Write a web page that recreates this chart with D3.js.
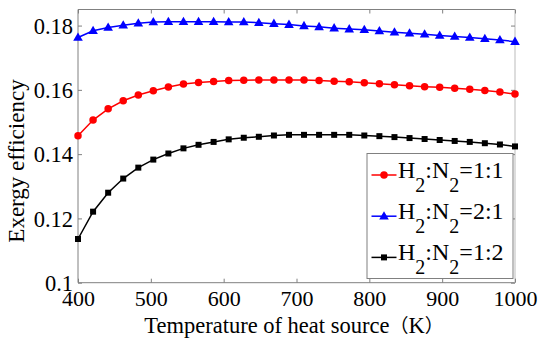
<!DOCTYPE html>
<html><head><meta charset="utf-8">
<script src="https://cdn.jsdelivr.net/npm/d3@7"></script>
<style>body{margin:0;background:#fff}svg{display:block}
svg text{font-family:"Liberation Serif","Times New Roman","DejaVu Serif",serif;}
svg text .cjk{font-family:"Noto Sans CJK SC",sans-serif;}
</style>
</head><body>
<svg id="c" width="550" height="341"></svg>
<script>
const temps = [400,420.7,441.4,462.1,482.8,503.4,524.1,544.8,565.5,586.2,606.9,627.6,648.3,669.0,689.7,710.3,731.0,751.7,772.4,793.1,813.8,834.5,855.2,875.9,896.6,917.2,937.9,958.6,979.3,1000];
const ratio11 = [0.1457,0.1506,0.1541,0.1566,0.1584,0.1597,0.1609,0.1618,0.1623,0.1626,0.1629,0.1630,0.1631,0.1631,0.1631,0.1631,0.1629,0.1627,0.1625,0.1622,0.1619,0.1616,0.1613,0.1610,0.1608,0.1605,0.1602,0.1598,0.1593,0.1587];
const ratio21 = [0.1763,0.1784,0.1794,0.1801,0.1807,0.1811,0.1812,0.1812,0.1812,0.1812,0.1811,0.1811,0.1809,0.1806,0.1803,0.1799,0.1796,0.1792,0.1789,0.1787,0.1783,0.1779,0.1776,0.1773,0.1769,0.1766,0.1763,0.1759,0.1755,0.1750];
const ratio12 = [0.1136,0.1221,0.1280,0.1324,0.1358,0.1383,0.1402,0.1418,0.1429,0.1438,0.1446,0.1451,0.1454,0.1458,0.1460,0.1460,0.1460,0.1460,0.1460,0.1458,0.1456,0.1453,0.1450,0.1447,0.1444,0.1441,0.1438,0.1434,0.1430,0.1424];
const xTicks = [400,500,600,700,800,900,1000];
const xTickLabels = ["400","500","600","700","800","900","1000"];
const yTicks = [0.1,0.12,0.14,0.16,0.18];
const yTickLabels = ["0.1","0.12","0.14","0.16","0.18"];
const seriesNames = ["1:1","2:1","1:2"];

const series = [
  {name: seriesNames[0], values: ratio11, color: "#ff0000", sym: d3.symbolCircle, size: 44},
  {name: seriesNames[1], values: ratio21, color: "#0000ff", sym: d3.symbolTriangle, size: 40},
  {name: seriesNames[2], values: ratio12, color: "#000000", sym: d3.symbolSquare, size: 36}
];

const svg = d3.select("#c");
const L = 78, R = 515, T = 9.5, B = 282.7;
const x = d3.scaleLinear().domain([400,1000]).range([L,R]);
const y = d3.scaleLinear().domain([0.1,0.185]).range([B,T]);

// frame
const axisCol = "#808080";
svg.append("line").attr("x1",L).attr("x2",L).attr("y1",T).attr("y2",B).attr("stroke",axisCol);
svg.append("line").attr("x1",L).attr("x2",R).attr("y1",B).attr("y2",B).attr("stroke",axisCol);
svg.append("line").attr("x1",L).attr("x2",R).attr("y1",T).attr("y2",T).attr("stroke",axisCol);
svg.append("line").attr("x1",R).attr("x2",R).attr("y1",T).attr("y2",B).attr("stroke","#bbb");

// axes with inward ticks
const gx = svg.append("g").attr("transform",`translate(0,${B})`)
  .call(d3.axisBottom(x).tickValues(xTicks).tickSizeInner(-4).tickSizeOuter(0).tickPadding(7.5)
    .tickFormat((d,i)=>xTickLabels[i]));
const gxt = svg.append("g").attr("transform",`translate(0,${T})`)
  .call(d3.axisTop(x).tickValues(xTicks).tickSizeInner(-4).tickSizeOuter(0).tickFormat(""));
const gy = svg.append("g").attr("transform",`translate(${L},0)`)
  .call(d3.axisLeft(y).tickValues(yTicks).tickSizeInner(-4).tickSizeOuter(0).tickPadding(5)
    .tickFormat((d,i)=>yTickLabels[i]));
const gyr = svg.append("g").attr("transform",`translate(${R},0)`)
  .call(d3.axisRight(y).tickValues(yTicks).tickSizeInner(-4).tickSizeOuter(0).tickFormat(""));
[gx,gxt,gy,gyr].forEach(g=>{
  g.attr("font-family",null).attr("font-size",null);
  g.select(".domain").remove();
  g.selectAll(".tick line").attr("stroke",axisCol);
  g.selectAll("text").style("font-size","22.5px").attr("fill","#000");
});
gx.selectAll("text").style("font-size","22px").attr("dy","0.71em");
gy.selectAll("text").attr("dy","0.34em");

// lines and markers
const line = d3.line().x((d,i)=>x(temps[i])).y(d=>y(d));
series.forEach(s=>{
  svg.append("path").datum(s.values).attr("d",line).attr("fill","none")
    .attr("stroke",s.color).attr("stroke-width",1.5);
  svg.append("g").selectAll("path").data(s.values).join("path")
    .attr("d",d3.symbol().type(s.sym).size(s.size))
    .attr("transform",(d,i)=>`translate(${x(temps[i])},${y(d) + (s.sym===d3.symbolTriangle?0.5:0)})`)
    .attr("fill",s.color);
});

// legend
const lg = svg.append("g");
lg.append("rect").attr("x",367).attr("y",153.5).attr("width",146).attr("height",125)
  .attr("fill","#fff").attr("stroke","#808080");
series.forEach((s,i)=>{
  const yy = 175 + i*41.2;
  lg.append("line").attr("x1",371.5).attr("x2",396.5).attr("y1",yy).attr("y2",yy)
    .attr("stroke",s.color).attr("stroke-width",1.5);
  lg.append("path").attr("d",d3.symbol().type(s.sym).size(s.size)())
    .attr("transform",`translate(384,${yy + (s.sym===d3.symbolTriangle?0.5:0)})`).attr("fill",s.color);
  const t = lg.append("text").attr("x",398).attr("y",yy+2.8)
    .style("font-size","24px").attr("fill","#000");
  t.append("tspan").text("H");
  t.append("tspan").style("font-size","20px").attr("dy",14).text("2");
  t.append("tspan").attr("dy",-14).text(":N");
  t.append("tspan").style("font-size","20px").attr("dy",14).text("2");
  t.append("tspan").attr("dy",-14).text("=" + s.name);
});

// axis titles
const xt = svg.append("text").attr("x",294).attr("y",332.5).attr("text-anchor","middle")
  .style("font-size","22.5px").attr("fill","#000");
xt.append("tspan").text("Temperature of heat source");
xt.append("tspan").attr("class","cjk").style("font-size","19px").text("（");
xt.append("tspan").text("K");
xt.append("tspan").attr("class","cjk").style("font-size","19px").text("）");

svg.append("text").attr("transform",`translate(24,161) rotate(-90)`)
  .attr("text-anchor","middle").style("font-size","23px").attr("fill","#000")
  .text("Exergy efficiency");
</script>
</body></html>
